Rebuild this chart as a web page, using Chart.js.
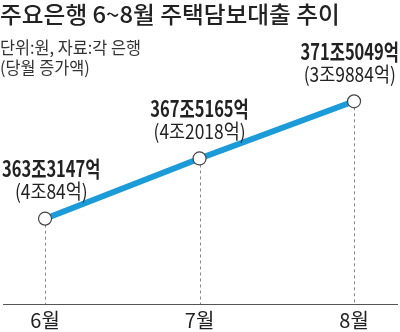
<!DOCTYPE html>
<html>
<head>
<meta charset="utf-8">
<script src="https://cdn.jsdelivr.net/npm/chart.js@4"></script>
<style>
  html, body { margin: 0; padding: 0; background: #fff; }
  #wrap { position: relative; width: 400px; height: 332px; overflow: hidden; }
  canvas { position: absolute; left: 0; top: 0; }
  .txt { position: absolute; left: 0; white-space: nowrap; color: #222;
         font-family: "Noto Sans CJK KR", "Noto Sans", sans-serif; transform-origin: 0 0; }
  #title { top: -4px; font-size: 23px; font-weight: 500; transform: scaleX(1.03); }
  #sub1 { top: 34px; font-size: 17px; color: #333; transform: scaleX(0.96); }
  #sub2 { top: 54px; font-size: 17px; color: #333; transform: scaleX(0.96); }
</style>
</head>
<body>
<div id="wrap">
  <canvas id="chart" width="400" height="339"></canvas>
  <div class="txt" id="title">주요은행 6~8월 주택담보대출 추이</div>
  <div class="txt" id="sub1">단위:원, 자료:각 은행</div>
  <div class="txt" id="sub2">(당월 증가액)</div>
</div>
<script>
  // data (조 원)
  var months = [6, 7, 8];
  var monthLabels = ["6월", "7월", "8월"];
  var balances = [363.3147, 367.5165, 371.5049];
  var balanceLabels = ["363조3147억", "367조5165억", "371조5049억"];
  var increaseLabels = ["(4조84억)", "(4조2018억)", "(3조9884억)"];

  var FONT = "'Noto Sans CJK KR', 'Noto Sans', sans-serif";

  // dashed drop lines from each point to the axis
  var dropLines = {
    id: "dropLines",
    beforeDatasetsDraw: function (chart) {
      var ctx = chart.ctx;
      var xs = chart.scales.x, ys = chart.scales.y;
      ctx.save();
      ctx.strokeStyle = "#888";
      ctx.lineWidth = 1;
      ctx.setLineDash([3, 3]);
      months.forEach(function (m, i) {
        var x = Math.round(xs.getPixelForValue(m)) + 0.5;
        ctx.beginPath();
        ctx.moveTo(x, ys.getPixelForValue(balances[i]));
        ctx.lineTo(x, chart.chartArea.bottom);
        ctx.stroke();
      });
      ctx.restore();
    }
  };

  // condensed text centred on cx
  function squeezed(ctx, text, cx, cy, sx) {
    ctx.save();
    ctx.translate(cx, cy);
    ctx.scale(sx, 1);
    ctx.fillText(text, 0, 0);
    ctx.restore();
  }

  // value labels above each point
  var valueLabels = {
    id: "valueLabels",
    afterDatasetsDraw: function (chart) {
      var ctx = chart.ctx;
      var xs = chart.scales.x, ys = chart.scales.y;
      ctx.save();
      ctx.fillStyle = "#222";
      ctx.textAlign = "center";
      ctx.textBaseline = "middle";
      months.forEach(function (m, i) {
        var px = xs.getPixelForValue(m);
        var py = ys.getPixelForValue(balances[i]);
        ctx.font = "bold 22px " + FONT;
        var half = ctx.measureText(balanceLabels[i]).width * 0.75 / 2;
        var cx = Math.max(2 + half, Math.min(px, chart.width - 1 - half));
        squeezed(ctx, balanceLabels[i], cx, py - 50, 0.75);
        ctx.font = "20px " + FONT;
        squeezed(ctx, increaseLabels[i], cx, py - 27, 0.87);
      });
      ctx.restore();
    }
  };

  new Chart(document.getElementById("chart"), {
    type: "line",
    data: {
      datasets: [{
        data: months.map(function (m, i) { return { x: m, y: balances[i] }; }),
        borderColor: "#1b9bd7",
        borderWidth: 6,
        pointRadius: 6.5,
        pointBackgroundColor: "#fff",
        pointBorderColor: "#444",
        pointBorderWidth: 1.2,
        tension: 0,
        clip: false
      }]
    },
    options: {
      responsive: false,
      animation: false,
      layout: { autoPadding: false, padding: { top: 0, left: 3, right: 3, bottom: 3 } },
      plugins: { legend: { display: false }, tooltip: { enabled: false } },
      scales: {
        x: {
          type: "linear",
          min: 5.728,
          max: 8.278,
          afterBuildTicks: function (axis) {
            axis.ticks = months.map(function (m) { return { value: m }; });
          },
          grid: { display: false, drawTicks: false },
          border: { display: true, color: "#555", width: 1 },
          ticks: {
            padding: 6,
            color: "#222",
            font: { family: FONT, size: 20, lineHeight: 1 },
            callback: function (v) { return monthLabels[months.indexOf(v)]; }
          }
        },
        y: { display: false, min: 357.36, max: 378.575 }
      }
    },
    plugins: [dropLines, valueLabels]
  });
</script>
</body>
</html>
